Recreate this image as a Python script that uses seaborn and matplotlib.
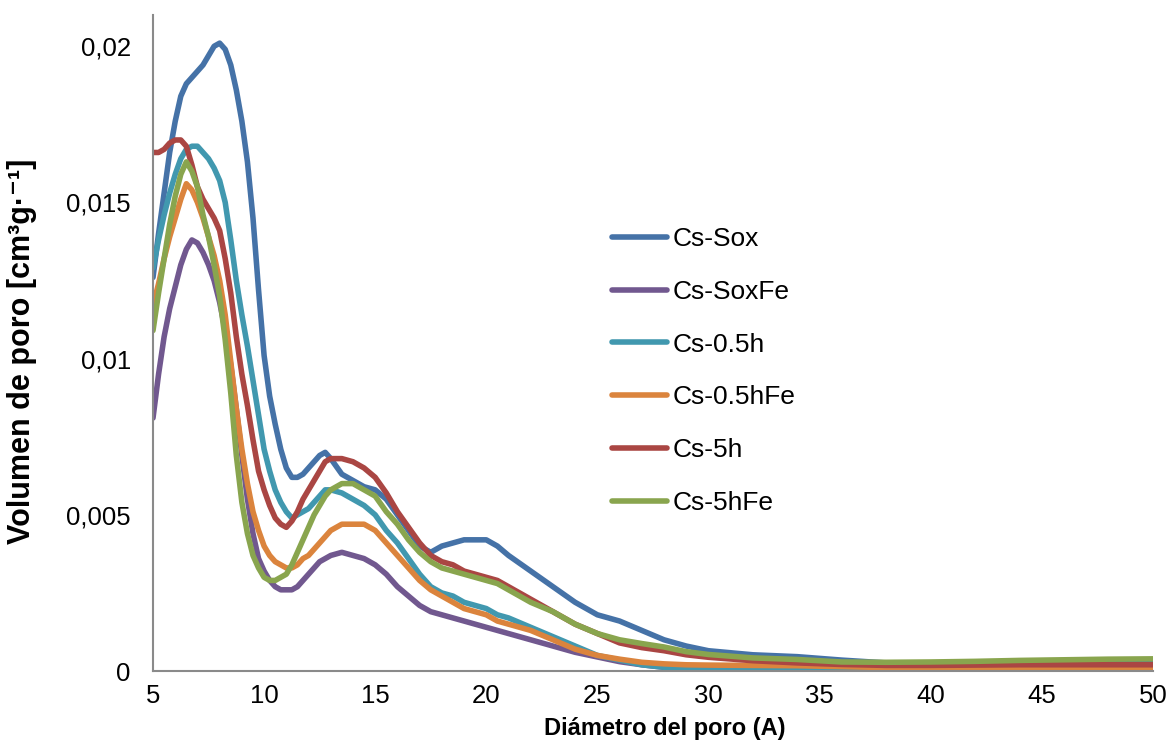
import numpy as np
import pandas as pd
import matplotlib
matplotlib.use("Agg")
import matplotlib.pyplot as plt
import seaborn as sns

# ---- data ----
diametro = [5.0, 5.25, 5.5, 5.75, 6.0, 6.25, 6.5, 6.75, 7.0, 7.25, 7.5, 7.75, 8.0, 8.25, 8.5, 8.75,
            9.0, 9.25, 9.5, 9.75, 10.0, 10.25, 10.5, 10.75, 11.0, 11.25, 11.5, 11.75, 12.0, 12.25,
            12.5, 12.75, 13.0,
            13.5, 14, 14.5, 15, 15.5, 16, 16.5, 17, 17.5, 18, 18.5, 19, 19.5, 20, 20.5, 21,
            22, 23, 24, 25, 26, 27, 28, 29, 30,
            32, 34, 36, 38, 40, 42, 44, 46, 48, 50]

cs_sox = [0.0126, 0.0140, 0.0153, 0.0166, 0.0176, 0.0184, 0.0188, 0.0190, 0.0192, 0.0194,
          0.0197, 0.0200, 0.0201, 0.0199, 0.0194, 0.0186, 0.0176, 0.0163, 0.0145, 0.0122,
          0.0101, 0.0088, 0.0079, 0.0071, 0.0065, 0.0062, 0.0062, 0.0063, 0.0065, 0.0067,
          0.0069, 0.0070, 0.0068,
          0.0063, 0.0061, 0.0059, 0.0058, 0.0055, 0.0050, 0.0045, 0.0040, 0.0038, 0.0040,
          0.0041, 0.0042, 0.0042, 0.0042, 0.0040, 0.0037,
          0.0032, 0.0027, 0.0022, 0.0018, 0.0016, 0.0013, 0.0010, 0.0008, 0.00065,
          0.00052, 0.00046, 0.00035, 0.00026, 0.00025, 0.00027, 0.00030, 0.00032, 0.00034, 0.00036]

cs_soxfe = [0.0081, 0.0095, 0.0107, 0.0116, 0.0123, 0.0130, 0.0135, 0.0138, 0.0137, 0.0134,
            0.0130, 0.0125, 0.0118, 0.0109, 0.0098, 0.0084, 0.0069, 0.0055, 0.0044, 0.0036,
            0.0032, 0.0029, 0.0027, 0.0026, 0.0026, 0.0026, 0.0027, 0.0029, 0.0031, 0.0033,
            0.0035, 0.0036, 0.0037,
            0.0038, 0.0037, 0.0036, 0.0034, 0.0031, 0.0027, 0.0024, 0.0021, 0.0019, 0.0018,
            0.0017, 0.0016, 0.0015, 0.0014, 0.0013, 0.0012,
            0.0010, 0.0008, 0.0006, 0.00045, 0.0003, 0.0002, 0.00012, 0.00007, 0.00004,
            0.00002, 0.00002, 0.00002, 0.00002, 0.00002, 0.00002, 0.00002, 0.00002, 0.00002, 0.00002]

cs_05h = [0.0129, 0.0138, 0.0146, 0.0153, 0.0159, 0.0164, 0.0167, 0.0168, 0.0168, 0.0166,
          0.0164, 0.0161, 0.0157, 0.0150, 0.0138, 0.0125, 0.0114, 0.0104, 0.0093, 0.0082,
          0.0071, 0.0064, 0.0058, 0.0054, 0.0051, 0.0049, 0.0050, 0.0051, 0.0052, 0.0054,
          0.0056, 0.0058, 0.0058,
          0.0057, 0.0055, 0.0053, 0.0050, 0.0045, 0.0041, 0.0036, 0.0031, 0.0027, 0.0025,
          0.0024, 0.0022, 0.0021, 0.0020, 0.0018, 0.0017,
          0.0014, 0.0011, 0.0008, 0.0005, 0.00035, 0.0002, 0.00012, 0.00006, 0.00003,
          0.00001, 0.00001, 0.00001, 0.00001, 0.00001, 0.00001, 0.00001, 0.00001, 0.00001, 0.00001]

cs_05hfe = [0.0117, 0.0124, 0.0132, 0.0139, 0.0145, 0.0151, 0.0156, 0.0154, 0.0150, 0.0145,
            0.0139, 0.0133, 0.0125, 0.0114, 0.0099, 0.0084, 0.0071, 0.0060, 0.0051, 0.0045,
            0.0040, 0.0037, 0.0035, 0.0034, 0.0033, 0.0033, 0.0034, 0.0036, 0.0037, 0.0039,
            0.0041, 0.0043, 0.0045,
            0.0047, 0.0047, 0.0047, 0.0045, 0.0041, 0.0037, 0.0033, 0.0029, 0.0026, 0.0024,
            0.0022, 0.0020, 0.0019, 0.0018, 0.0016, 0.0015,
            0.0013, 0.0010, 0.0007, 0.0005, 0.00038, 0.00028, 0.00023, 0.0002, 0.00019,
            0.00018, 0.00017, 0.00014, 0.00011, 0.0001, 0.00008, 0.00007, 0.00006, 0.00005, 0.00005]

cs_5h = [0.0166, 0.0166, 0.0167, 0.0169, 0.0170, 0.0170, 0.0168, 0.0162, 0.0155, 0.0151,
         0.0148, 0.0145, 0.0141, 0.0132, 0.0121, 0.0107, 0.0095, 0.0085, 0.0074, 0.0064,
         0.0058, 0.0053, 0.0049, 0.0047, 0.0046, 0.0048, 0.0051, 0.0055, 0.0058, 0.0061,
         0.0064, 0.0067, 0.0068,
         0.0068, 0.0067, 0.0065, 0.0062, 0.0057, 0.0051, 0.0046, 0.0041, 0.0037, 0.0035,
         0.0034, 0.0032, 0.0031, 0.0030, 0.0029, 0.0027,
         0.0023, 0.0019, 0.0015, 0.0012, 0.0009, 0.00075, 0.00065, 0.00052, 0.00044,
         0.00033, 0.00026, 0.00021, 0.00018, 0.00018, 0.00019, 0.0002, 0.0002, 0.0002, 0.0002]

cs_5hfe = [0.0109, 0.0121, 0.0132, 0.0143, 0.0152, 0.0159, 0.0163, 0.0160, 0.0155, 0.0146,
           0.0139, 0.0130, 0.0120, 0.0106, 0.0089, 0.0069, 0.0054, 0.0044, 0.0037, 0.0033,
           0.0030, 0.0029, 0.0029, 0.0030, 0.0031, 0.0034, 0.0038, 0.0042, 0.0046, 0.0050,
           0.0053, 0.0056, 0.0058,
           0.0060, 0.0060, 0.0058, 0.0056, 0.0051, 0.0047, 0.0042, 0.0038, 0.0035, 0.0033,
           0.0032, 0.0031, 0.0030, 0.0029, 0.0028, 0.0026,
           0.0022, 0.0019, 0.0015, 0.0012, 0.0010, 0.00088, 0.00077, 0.00062, 0.00053,
           0.00042, 0.00037, 0.00029, 0.00028, 0.00029, 0.00031, 0.00034, 0.00036, 0.00038, 0.00039]

series_names = ["Cs-Sox", "Cs-SoxFe", "Cs-0.5h", "Cs-0.5hFe", "Cs-5h", "Cs-5hFe"]
series_values = [cs_sox, cs_soxfe, cs_05h, cs_05hfe, cs_5h, cs_5hfe]
colors = ["#4572A7", "#71588F", "#4198AF", "#DB843D", "#AA4643", "#89A54E"]

x_ticks = [5, 10, 15, 20, 25, 30, 35, 40, 45, 50]
y_ticks = [0, 0.005, 0.01, 0.015, 0.02]
y_tick_labels = ["0", "0,005", "0,01", "0,015", "0,02"]

# ---- build long table ----
frames = []
for name, vals in zip(series_names, series_values):
    frames.append(pd.DataFrame({"Diametro": diametro, "Volumen": vals, "Serie": name}))
df = pd.concat(frames, ignore_index=True)

sns.set_style("white")
plt.rcParams["font.family"] = ["Liberation Sans", "DejaVu Sans"]
plt.rcParams["text.color"] = "black"
plt.rcParams["axes.labelcolor"] = "black"

fig = plt.figure(figsize=(11.68, 7.40), dpi=100)
ax = fig.add_axes([0.131, 0.0932, 0.856, 0.8865])

sns.lineplot(data=df, x="Diametro", y="Volumen", hue="Serie", hue_order=series_names,
             palette=colors, linewidth=4.0, ax=ax, legend=True,
             solid_joinstyle="round", solid_capstyle="round")

ax.set_xlim(5, 50)
ax.set_ylim(0, 0.021)
ax.set_xticks(x_ticks)
ax.set_xticklabels([str(t) for t in x_ticks])
ax.set_yticks(y_ticks)
ax.set_yticklabels(y_tick_labels)
ax.tick_params(axis="both", length=0, labelsize=18.5, colors="black")
ax.tick_params(axis="y", pad=16)
ax.tick_params(axis="x", pad=9)

for s in ["top", "right"]:
    ax.spines[s].set_visible(False)
for s in ["left", "bottom"]:
    ax.spines[s].set_color("#8a8a8a")
    ax.spines[s].set_linewidth(1.5)

ax.set_xlabel("Diámetro del poro (A)", fontsize=17, fontweight="bold", color="black")
ax.xaxis.set_label_coords(0.512, -0.07)
ax.set_ylabel("Volumen de poro [cm³g·⁻¹]", fontsize=22, fontweight="bold", color="black")
ax.yaxis.set_label_coords(-0.116, 0.488)

handles, labels = ax.get_legend_handles_labels()
leg = ax.legend(handles, labels, loc="upper left", bbox_to_anchor=(612 / 1168, 1 - 227 / 740),
                bbox_transform=fig.transFigure, frameon=False, fontsize=19,
                handlelength=2.1, handletextpad=0.2, labelspacing=1.09, borderpad=0,
                borderaxespad=0)
for t in leg.get_texts():
    t.set_color("black")

fig.savefig("out.png", dpi=100)
